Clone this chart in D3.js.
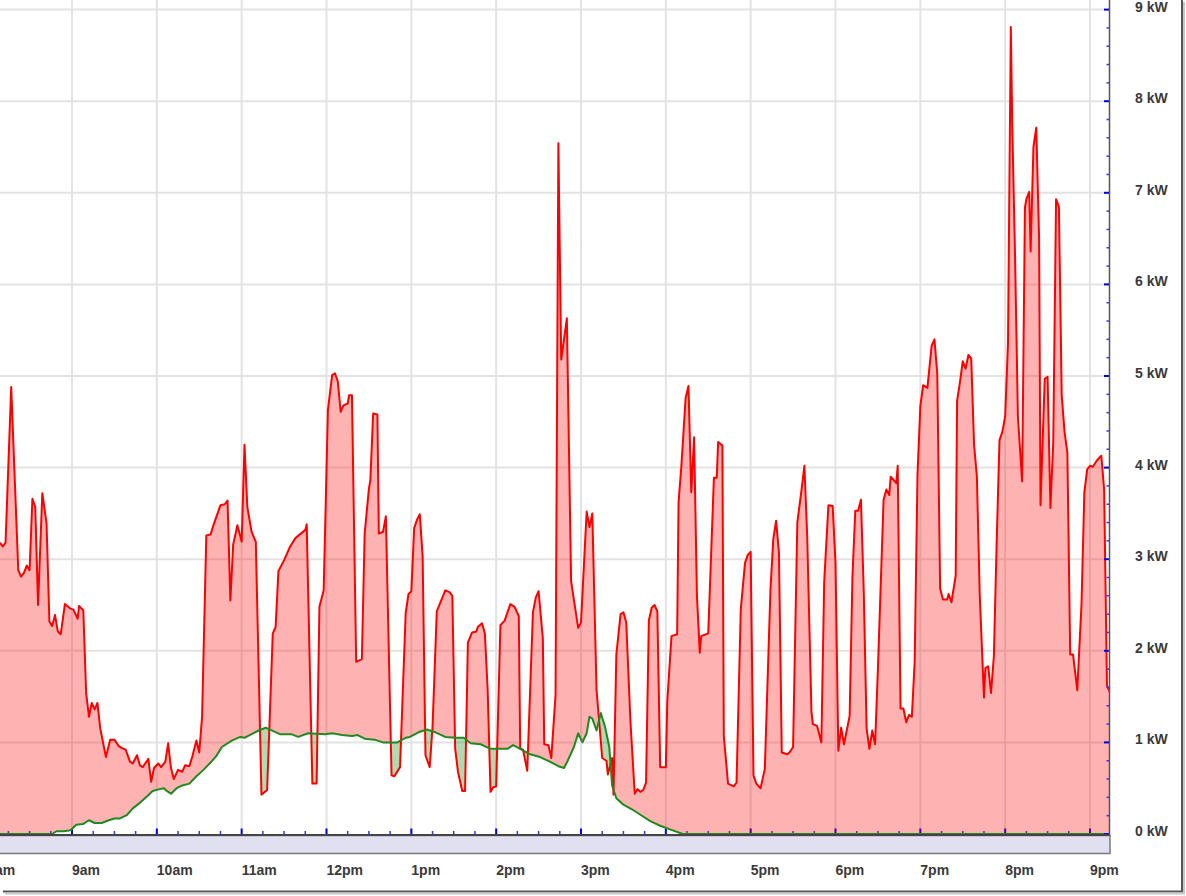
<!DOCTYPE html>
<html><head><meta charset="utf-8">
<script src="https://cdn.jsdelivr.net/npm/d3@7"></script>
<style>body{margin:0;background:#fff}svg{display:block}</style>
</head><body>
<svg id="c" width="1186" height="896"></svg>
<script>
// Time in minutes since midnight, power in kW
const hourTicks = [480,540,600,660,720,780,840,900,960,1020,1080,1140,1200,1260];
const hourLabels = ["8am","9am","10am","11am","12pm","1pm","2pm","3pm","4pm","5pm","6pm","7pm","8pm","9pm"];
const kwTicks = [0,1,2,3,4,5,6,7,8,9];
const kwLabels = ["0 kW","1 kW","2 kW","3 kW","4 kW","5 kW","6 kW","7 kW","8 kW","9 kW"];

// Household consumption (red)
const usage = [
[489,3.18],[491,3.14],[493,3.18],[497,4.88],[502,2.88],[504,2.81],[506,2.85],[508,2.93],[510,2.88],[512,3.66],
[514,3.57],[516,2.50],[519,3.72],[522,3.39],[524,2.32],[526,2.27],[528,2.39],[530,2.21],[532,2.18],[535,2.51],
[539,2.46],[541,2.45],[544,2.35],[545,2.49],[548,2.44],[550,1.54],[552,1.28],[554,1.43],[556,1.36],[558,1.43],
[560,1.15],[564,0.84],[567,1.03],[570,1.03],[573,0.96],[575,0.94],[578,0.92],[581,0.79],[583,0.77],[586,0.86],
[588,0.75],[590,0.73],[594,0.82],[596,0.57],[598,0.72],[601,0.77],[603,0.73],[606,0.79],[608,0.99],[610,0.72],
[612,0.60],[615,0.70],[618,0.68],[620,0.75],[623,0.74],[625,0.84],[628,1.02],[630,0.89],[632,1.28],[635,3.26],
[638,3.27],[640,3.37],[645,3.59],[648,3.60],[650,3.64],[652,2.55],[654,3.16],[657,3.37],[660,3.19],[662,4.25],
[664,3.57],[667,3.30],[670,3.19],[674,0.43],[678,0.48],[682,2.19],[684,2.26],[686,2.87],[690,2.99],[694,3.13],
[698,3.23],[705,3.32],[706,3.38],[710,0.55],[713,0.55],[715,2.48],[718,2.66],[721,4.63],[724,5.01],[726,5.03],
[728,4.94],[730,4.61],[732,4.68],[735,4.70],[736,4.79],[738,4.79],[741,1.88],[745,1.91],[747,3.28],[750,3.77],
[751,3.86],[753,4.59],[756,4.58],[757,3.28],[760,3.30],[762,3.47],[766,0.64],[768,0.63],[772,0.73],[776,2.41],
[778,2.62],[780,2.65],[782,3.34],[784,3.43],[786,3.49],[788,3.03],[790,0.86],[793,0.73],[795,1.17],[798,2.43],
[804,2.66],[807,2.64],[809,2.60],[811,0.93],[813,0.68],[816,0.47],[818,0.47],[820,2.09],[823,2.20],[826,2.21],
[827,2.26],[830,2.30],[832,2.19],[834,1.57],[836,0.46],[838,0.51],[840,0.52],[843,2.28],[846,2.33],[850,2.51],
[853,2.48],[856,2.38],[857,0.93],[859,0.92],[862,0.69],[866,2.42],[868,2.58],[870,2.65],[873,2.14],[874,0.98],
[877,0.97],[879,0.83],[882,1.52],[884,7.54],[886,5.18],[890,5.63],[893,2.76],[898,2.25],[900,2.31],[904,3.52],
[906,3.35],[908,3.50],[911,1.57],[915,0.83],[918,0.80],[919,0.65],[922,0.83],[923,0.43],[925,1.96],[928,2.40],
[930,2.42],[932,2.31],[935,1.22],[938,0.44],[940,0.49],[942,0.46],[944,0.48],[946,0.56],[948,2.33],[950,2.47],
[952,2.50],[954,2.43],[956,0.73],[960,0.73],[961,1.44],[964,2.16],[968,2.18],[969,3.62],[971,4.02],[974,4.76],
[976,4.89],[978,3.73],[980,4.33],[982,2.60],[984,1.98],[985,2.16],[990,2.19],[994,3.89],[996,3.89],[997,4.28],
[1000,4.24],[1001,1.07],[1004,0.55],[1008,0.52],[1010,0.56],[1013,2.45],[1016,2.96],[1018,3.05],[1020,3.08],[1022,0.64],
[1024,0.55],[1027,0.50],[1030,0.71],[1034,2.67],[1036,3.22],[1038,3.42],[1040,3.07],[1042,0.89],[1046,0.87],[1048,0.90],
[1050,0.95],[1053,3.40],[1056,3.76],[1058,4.02],[1060,3.25],[1063,1.33],[1064,1.20],[1067,1.18],[1070,1.00],[1072,2.75],
[1075,3.59],[1078,3.58],[1080,2.96],[1082,0.91],[1084,1.16],[1086,0.98],[1090,1.29],[1092,2.82],[1094,3.53],[1096,3.53],
[1098,3.65],[1100,2.64],[1102,1.15],[1104,0.93],[1106,1.13],[1108,0.98],[1110,1.80],[1114,3.65],[1116,3.76],[1118,3.70],
[1119,3.90],[1122,3.85],[1123,3.83],[1124,4.02],[1126,1.37],[1128,1.37],[1130,1.22],[1132,1.30],[1134,1.28],[1136,1.88],
[1138,3.93],[1140,4.67],[1142,4.90],[1145,4.87],[1148,5.33],[1150,5.40],[1152,5.02],[1154,2.68],[1156,2.56],[1159,2.56],
[1160,2.62],[1162,2.53],[1165,2.82],[1166,4.73],[1168,4.93],[1170,5.16],[1172,5.08],[1174,5.23],[1176,5.19],[1178,4.25],
[1180,3.90],[1182,2.62],[1185,1.49],[1186,1.81],[1188,1.83],[1190,1.54],[1192,1.94],[1194,3.19],[1196,4.30],[1198,4.39],
[1200,4.56],[1202,5.36],[1204,8.81],[1205,7.75],[1207,6.30],[1209,4.56],[1212,3.85],[1214,6.84],[1215,6.93],[1217,7.01],
[1218,6.36],[1220,7.50],[1222,7.71],[1224,6.50],[1225,3.59],[1228,4.97],[1230,4.99],[1232,3.56],[1234,4.27],[1236,6.93],
[1238,6.85],[1240,4.79],[1242,4.39],[1244,4.16],[1246,1.96],[1248,1.96],[1251,1.57],[1254,2.51],[1256,3.73],[1258,3.98],
[1260,4.02],[1262,4.01],[1265,4.08],[1268,4.13],[1270,3.76],[1272,1.62],[1274,1.55]
];

// Solar generation (green)
const solarTime = [489,526,529,534,539,543,548,552,556,561,566,570,574,579,583,588,593,597,602,605,
607,610,614,618,623,628,633,638,642,646,653,659,662,667,672,677,680,687,695,700,
707,719,724,731,738,742,747,754,760,766,770,776,779,785,791,797,804,811,817,822,
829,836,848,852,857,864,871,878,884,888,890,895,898,901,904,906,908,911,914,917,
920,922,925,930,936,942,949,956,963,972,1274];
const solarKw = [0,0,0.03,0.03,0.04,0.10,0.11,0.15,0.12,0.12,0.15,0.17,0.17,0.21,0.28,0.34,0.41,0.47,0.49,0.50,
0.47,0.44,0.50,0.53,0.55,0.63,0.70,0.78,0.85,0.95,1.02,1.06,1.05,1.09,1.13,1.16,1.14,1.09,1.09,1.06,
1.10,1.09,1.10,1.08,1.07,1.08,1.04,1.03,1.00,1.00,1.00,1.05,1.06,1.11,1.14,1.11,1.06,1.05,1.05,0.99,
0.98,0.93,0.93,0.97,0.93,0.87,0.84,0.79,0.74,0.72,0.78,0.95,1.10,1.00,1.10,1.28,1.26,1.13,1.32,1.17,
0.95,0.53,0.39,0.32,0.27,0.21,0.14,0.09,0.05,0,0];

const solar = solarTime.map((t,i)=>[t, solarKw[i]]);

const svg = d3.select("#c");
const W = 1186, H = 896;
const plotL = 0, plotR = 1109.5, plotT = 0, plotB = 834.5;

const x = d3.scaleLinear().domain([540,1260]).range([72,1090]);
const y = d3.scaleLinear().domain([0,9]).range([834,9.6]);

svg.append("rect").attr("width",W).attr("height",H).attr("fill","#fff");

const defs = svg.append("defs");
defs.append("clipPath").attr("id","plotClip").append("rect")
  .attr("x",plotL).attr("y",plotT).attr("width",plotR-plotL).attr("height",plotB-plotT+1);

// region above the solar curve
defs.append("clipPath").attr("id","aboveSolar").append("path")
  .attr("d", d3.area().x(d=>x(d[0])).y0(-10).y1(d=>y(d[1]))(solar));
// region above the usage curve
defs.append("clipPath").attr("id","aboveUsage").append("path")
  .attr("d", d3.area().x(d=>x(d[0])).y0(-10).y1(d=>y(d[1]))(usage));

const plot = svg.append("g").attr("clip-path","url(#plotClip)");

// grid
plot.append("g").selectAll("line").data(hourTicks).join("line")
  .attr("x1",d=>x(d)).attr("x2",d=>x(d)).attr("y1",plotT).attr("y2",plotB)
  .attr("stroke","#e3e3e3").attr("stroke-width",2);
plot.append("g").selectAll("line").data(kwTicks.slice(1)).join("line")
  .attr("x1",plotL).attr("x2",plotR).attr("y1",d=>y(d)).attr("y2",d=>y(d))
  .attr("stroke","#e3e3e3").attr("stroke-width",2);

// bottom ticks (drawn under fills)
const minorX = d3.range(480, 1275, 15).filter(t => t % 60 !== 0);
plot.append("g").selectAll("line").data(hourTicks).join("line")
  .attr("x1",d=>x(d)).attr("x2",d=>x(d)).attr("y1",plotB-6).attr("y2",plotB)
  .attr("stroke","#0000ee").attr("stroke-width",2);
plot.append("g").selectAll("line").data(minorX).join("line")
  .attr("x1",d=>x(d)).attr("x2",d=>x(d)).attr("y1",plotB-3.5).attr("y2",plotB)
  .attr("stroke","#3333ff").attr("stroke-width",1.5);
// right ticks
const minorY = d3.range(0, 9.01, 0.2).filter(v => Math.abs(v - Math.round(v)) > 0.01);
svg.append("g").selectAll("line").data(kwTicks).join("line")
  .attr("x1",plotR-5.5).attr("x2",plotR).attr("y1",d=>y(d)).attr("y2",d=>y(d))
  .attr("stroke","#0000ee").attr("stroke-width",2);
svg.append("g").selectAll("line").data(minorY).join("line")
  .attr("x1",plotR-3).attr("x2",plotR).attr("y1",d=>y(d)).attr("y2",d=>y(d))
  .attr("stroke","#3333ff").attr("stroke-width",1.5);

// fills
const under = d3.area().x(d=>x(d[0])).y0(y(0)).y1(d=>y(d[1]));
plot.append("g").attr("clip-path","url(#aboveSolar)")
  .append("path").attr("d", under(usage)).attr("fill","rgba(255,0,0,0.3)");
plot.append("g").attr("clip-path","url(#aboveUsage)")
  .append("path").attr("d", under(solar)).attr("fill","rgba(0,128,0,0.3)");

// strip under the axis
svg.append("rect").attr("x",-2).attr("y",835.5).attr("width",plotR+2.5).attr("height",18)
  .attr("fill","#e0e0f0").attr("stroke","#7a7a7a").attr("stroke-width",1.5);

// axis lines
svg.append("line").attr("x1",0).attr("x2",plotR).attr("y1",835).attr("y2",835)
  .attr("stroke","#444").attr("stroke-width",2);
svg.append("line").attr("x1",plotR).attr("x2",plotR).attr("y1",0).attr("y2",836)
  .attr("stroke","#555").attr("stroke-width",1.5);

// lines
const line = d3.line().x(d=>x(d[0])).y(d=>y(d[1]));
plot.append("path").attr("d", line(usage)).attr("fill","none")
  .attr("stroke","#ff0000").attr("stroke-width",2).attr("stroke-linejoin","round");
plot.append("path").attr("d", line(solar)).attr("fill","none")
  .attr("stroke","#1f8a1f").attr("stroke-width",2).attr("stroke-linejoin","round");

// labels
const font = "'Liberation Sans', Arial, sans-serif";
svg.append("g").selectAll("text").data(hourTicks).join("text")
  .attr("x",d=>x(d)).attr("y",875).text((d,i)=>hourLabels[i])
  .attr("font-family",font).attr("font-size",14).attr("font-weight","bold")
  .attr("fill","#3a3a3a");
svg.append("g").selectAll("text").data(kwTicks).join("text")
  .attr("x",1135).attr("y",d=>y(d)+2).text((d,i)=>kwLabels[i])
  .attr("font-family",font).attr("font-size",14).attr("font-weight","bold")
  .attr("fill","#3a3a3a");

// screenshot frame
svg.append("line").attr("x1",3).attr("x2",1183).attr("y1",891.5).attr("y2",891.5)
  .attr("stroke","#555").attr("stroke-width",2);
svg.append("line").attr("x1",1182).attr("x2",1182).attr("y1",0).attr("y2",892)
  .attr("stroke","#555").attr("stroke-width",2);
svg.append("line").attr("x1",5).attr("x2",1185).attr("y1",893.5).attr("y2",893.5)
  .attr("stroke","#c8c8c8").attr("stroke-width",2);
svg.append("line").attr("x1",1184).attr("x2",1184).attr("y1",2).attr("y2",894)
  .attr("stroke","#c8c8c8").attr("stroke-width",2);
</script>
</body></html>
